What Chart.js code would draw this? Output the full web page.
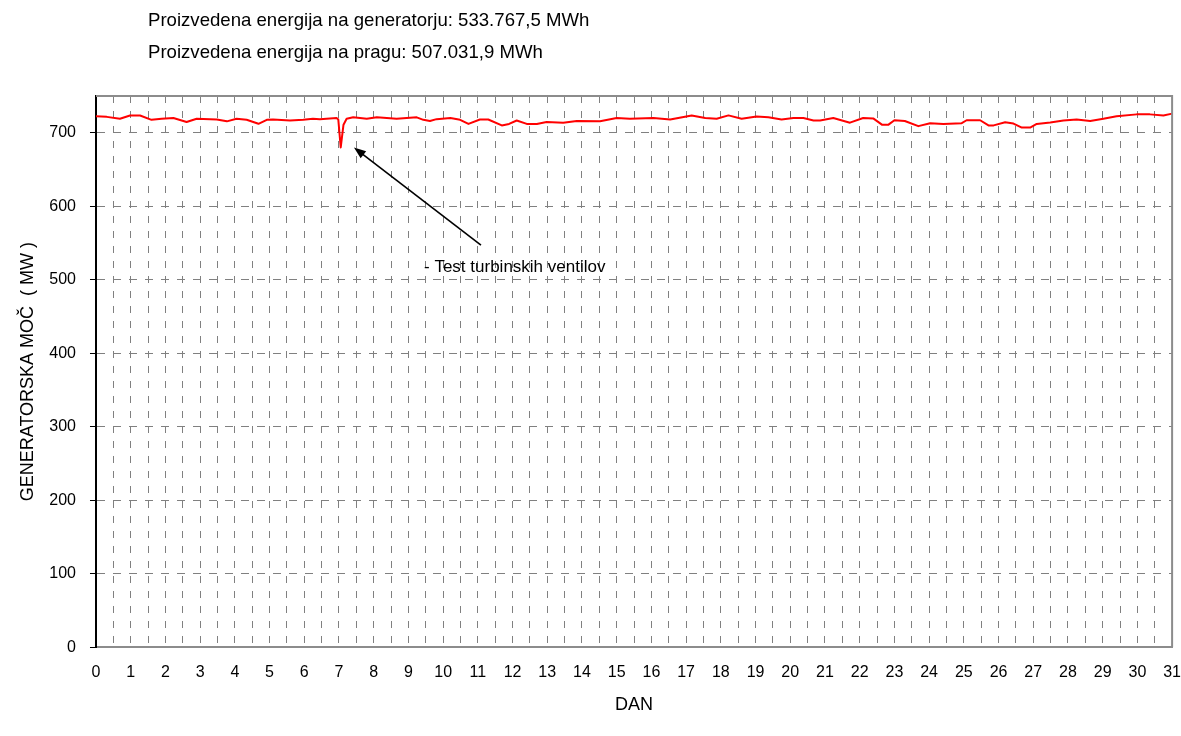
<!DOCTYPE html>
<html>
<head>
<meta charset="utf-8">
<script src="https://cdn.jsdelivr.net/npm/chart.js@4/dist/chart.umd.min.js"></script>
<style>
  html, body { margin: 0; padding: 0; background: #ffffff; }
  #wrap { width: 1181px; height: 736px; position: relative; }
</style>
</head>
<body>
<div id="wrap"><canvas id="c" width="1181" height="736"></canvas></div>
<script>
// ---- data ----
const headerLines = [
  "Proizvedena energija na generatorju: 533.767,5 MWh",
  "Proizvedena energija na pragu: 507.031,9 MWh"
];
const xTitle = "DAN";
const yTitle = "GENERATORSKA MOČ  ( MW )";
const annotationText = "- Test turbinskih ventilov";
const annotationArrowFrom = [11.09, 547];
const annotationArrowTo = [7.43, 680];
const annotationTextAt = [9.45, 517];

const days = [
  0.00, 0.31, 0.69, 0.98, 1.27, 1.60, 1.89, 2.23, 2.61, 2.90,
  3.48, 3.77, 4.05, 4.34, 4.68, 4.92, 5.10, 5.59, 5.97, 6.25,
  6.45, 6.93, 6.98, 7.05, 7.13, 7.22, 7.41, 7.80, 8.09, 8.66,
  9.24, 9.43, 9.62, 9.81, 10.21, 10.49, 10.73, 11.06, 11.30, 11.69,
  11.90, 12.12, 12.41, 12.70, 12.98, 13.46, 13.85, 14.52, 15.00, 15.38,
  16.06, 16.54, 17.16, 17.55, 17.88, 18.22, 18.60, 19.03, 19.37, 19.75,
  20.09, 20.38, 20.67, 20.86, 21.24, 21.72, 22.10, 22.39, 22.64, 22.83,
  23.00, 23.30, 23.69, 24.03, 24.41, 24.94, 25.08, 25.47, 25.71, 25.86,
  26.19, 26.43, 26.67, 26.91, 27.10, 27.49, 27.87, 28.25, 28.64, 29.02,
  29.40, 29.98, 30.36, 30.75, 31.00
];
const power = [
  722.5, 721.6, 719, 723.5, 723.5, 717.6, 719, 720, 714.6, 719,
  718, 715.5, 719, 717.6, 712.2, 717.6, 718, 716.7, 717.6, 719,
  718.5, 720, 718, 680, 711, 719, 721, 719, 721, 719,
  721, 717.6, 716, 718.5, 720, 717.6, 712, 718, 718, 710,
  712, 716.7, 712, 712, 714.6, 713.7, 716, 715.5, 720, 719,
  720, 718, 723.6, 720, 719, 723.6, 719, 722, 721, 718,
  720, 720, 716.7, 716.7, 720, 713.7, 720, 719.5, 711, 711,
  717, 716, 709, 713, 712, 713, 717, 717, 710, 710,
  714.4, 712.5, 707, 707, 712, 714, 716.8, 718, 716, 719,
  722.5, 725, 725, 723.5, 726
];
const xMin = 0, xMax = 31, xStep = 0.5;
const yMin = 0, yMax = 750, yStep = 100;

// ---- chart ----
const FONT = '"Liberation Sans", Arial, sans-serif';
const points = days.map((d, i) => ({ x: d, y: power[i] }));

const decor = {
  id: 'decor',
  afterDraw(chart) {
    const { ctx, chartArea: a, scales: { x, y } } = chart;
    ctx.save();
    // top & right frame
    ctx.strokeStyle = '#8c8c8c';
    ctx.lineWidth = 2;
    ctx.beginPath();
    ctx.moveTo(a.left, a.top); ctx.lineTo(a.right, a.top); ctx.lineTo(a.right, a.bottom);
    ctx.stroke();

    // header text
    ctx.fillStyle = '#000';
    ctx.font = '18.6px ' + FONT;
    ctx.textBaseline = 'middle';
    ctx.textAlign = 'left';
    ctx.fillText(headerLines[0], 148, 21);
    ctx.fillText(headerLines[1], 148, 53);

    // annotation arrow
    const x1 = x.getPixelForValue(annotationArrowFrom[0]), y1 = y.getPixelForValue(annotationArrowFrom[1]);
    const x2 = x.getPixelForValue(annotationArrowTo[0]), y2 = y.getPixelForValue(annotationArrowTo[1]);
    const ang = Math.atan2(y2 - y1, x2 - x1);
    const hl = 12, hw = 4.5;
    ctx.strokeStyle = '#000';
    ctx.lineWidth = 1.6;
    ctx.beginPath();
    ctx.moveTo(x1, y1);
    ctx.lineTo(x2 - Math.cos(ang) * hl * 0.8, y2 - Math.sin(ang) * hl * 0.8);
    ctx.stroke();
    ctx.fillStyle = '#000';
    ctx.beginPath();
    ctx.moveTo(x2, y2);
    ctx.lineTo(x2 - Math.cos(ang) * hl - Math.sin(ang) * hw, y2 - Math.sin(ang) * hl + Math.cos(ang) * hw);
    ctx.lineTo(x2 - Math.cos(ang) * hl + Math.sin(ang) * hw, y2 - Math.sin(ang) * hl - Math.cos(ang) * hw);
    ctx.closePath();
    ctx.fill();

    // annotation text
    ctx.font = '17px ' + FONT;
    ctx.fillText(annotationText, x.getPixelForValue(annotationTextAt[0]), y.getPixelForValue(annotationTextAt[1]));
    ctx.restore();
  }
};

new Chart(document.getElementById('c'), {
  type: 'line',
  data: {
    datasets: [{
      data: points,
      borderColor: '#ff0000',
      borderWidth: 2,
      borderJoinStyle: 'round',
      borderCapStyle: 'round',
      pointRadius: 0,
      fill: false,
      tension: 0
    }]
  },
  options: {
    responsive: false,
    animation: false,
    devicePixelRatio: 1,
    layout: { padding: { top: 96, right: 0, bottom: 20, left: 0 } },
    plugins: { legend: { display: false }, tooltip: { enabled: false }, title: { display: false } },
    scales: {
      x: {
        type: 'linear',
        min: xMin, max: xMax,
        ticks: {
          stepSize: xStep,
          autoSkip: false,
          maxRotation: 0,
          padding: 0,
          color: '#000',
          font: { family: FONT, size: 16 },
          callback: (v) => Number.isInteger(v) ? String(v) : ''
        },
        grid: { color: '#808080', lineWidth: 1, drawTicks: true, tickLength: 16, tickColor: 'rgba(0,0,0,0)' },
        border: { display: true, color: '#8c8c8c', width: 2, dash: [7, 8] },
        title: { display: true, text: xTitle, color: '#000', font: { family: FONT, size: 18 }, padding: { top: 12, bottom: 0 } }
      },
      y: {
        type: 'linear',
        min: yMin, max: yMax,
        afterBuildTicks: (s) => { s.ticks = s.ticks.filter(t => t.value % yStep === 0); },
        ticks: {
          stepSize: yStep,
          padding: 14,
          color: '#000',
          font: { family: FONT, size: 16 }
        },
        grid: { color: '#808080', lineWidth: 1, drawTicks: true, tickLength: 6, tickColor: '#000' },
        border: { display: true, color: '#000', width: 2, dash: [8, 8] },
        title: { display: true, text: yTitle, color: '#000', font: { family: FONT, size: 18 }, padding: { top: 17, bottom: -3.3 } }
      }
    }
  },
  plugins: [decor]
});
</script>
</body>
</html>
